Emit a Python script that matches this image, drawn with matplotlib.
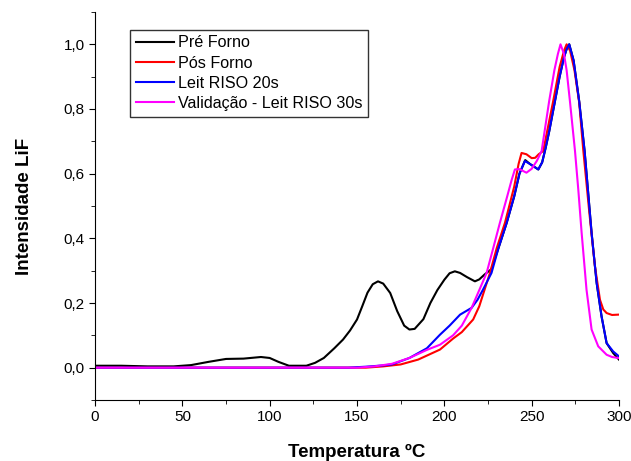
import matplotlib
matplotlib.use("Agg")
import matplotlib.pyplot as plt
from matplotlib.ticker import MultipleLocator, FuncFormatter

plt.rcParams['font.family'] = ['Liberation Sans', 'DejaVu Sans']

# Pré Forno
T_pre = [0, 15, 30, 45, 55, 65, 75, 85, 95, 100, 105, 111, 121, 126, 131, 137, 142, 146, 150,
         153, 156, 159, 162, 165, 169, 173, 177, 180, 183, 188, 192, 196, 200, 203, 206, 209,
         213, 217.5, 220, 223, 227, 231, 235.7, 240, 243, 246.3, 249, 253.8, 256, 258, 260, 263,
         266, 268.5, 270, 271.5, 274, 277.2, 280.3, 284.3, 287.2, 290, 292.9, 296.7, 300]
I_pre = [0.006, 0.006, 0.004, 0.004, 0.008, 0.018, 0.027, 0.028, 0.033, 0.030, 0.018, 0.006,
         0.006, 0.015, 0.03, 0.06, 0.087, 0.115, 0.149, 0.19, 0.232, 0.258, 0.267, 0.26, 0.231,
         0.175, 0.13, 0.118, 0.12, 0.15, 0.2, 0.24, 0.272, 0.292, 0.298, 0.293, 0.28, 0.267,
         0.273, 0.288, 0.305, 0.37, 0.448, 0.53, 0.6, 0.642, 0.63, 0.613, 0.635, 0.68, 0.73,
         0.815, 0.9, 0.96, 0.985, 1.0, 0.95, 0.824, 0.67, 0.417, 0.262, 0.159, 0.076, 0.045,
         0.025]

# Pós Forno
T_pos = [0, 155, 165, 175, 185, 197.5, 205, 210, 216.5, 220, 226.1, 230, 234.7, 240, 242.5,
         244.2, 247, 250, 252, 254, 256.6, 262.3, 266, 268.5, 270, 272, 274.5, 277.2, 279.5,
         283, 286.2, 289.1, 291, 292.9, 296, 299.5]
I_pos = [0, 0, 0.004, 0.01, 0.025, 0.056, 0.09, 0.11, 0.149, 0.19, 0.293, 0.37, 0.448, 0.56,
         0.63, 0.664, 0.66, 0.648, 0.649, 0.66, 0.67, 0.824, 0.93, 0.98, 1.0, 0.98, 0.92, 0.82,
         0.675, 0.48, 0.314, 0.21, 0.18, 0.169, 0.163, 0.164]

# Leit RISO 20s
T_b = [0, 145, 155, 165, 170, 180, 190, 197.5, 203, 209, 215.6, 219, 222, 227, 231, 235.7,
       240, 243, 246.1, 249, 253.8, 256, 258, 260, 263, 266, 268.5, 270, 271.5, 274, 277.2,
       280.3, 284.3, 287.2, 290, 292.9, 296.7, 300]
I_b = [0, 0, 0.003, 0.007, 0.01, 0.03, 0.06, 0.102, 0.13, 0.164, 0.185, 0.21, 0.24, 0.293,
       0.37, 0.448, 0.53, 0.6, 0.639, 0.63, 0.613, 0.635, 0.68, 0.73, 0.815, 0.9, 0.96, 0.985,
       1.0, 0.95, 0.824, 0.67, 0.417, 0.262, 0.159, 0.076, 0.05, 0.035]

# Validação - Leit RISO 30s
T_v = [0, 150, 160, 170, 180, 190, 197.5, 205, 210, 215.6, 220, 224.2, 228, 231.8, 236,
       238.5, 240.4, 243, 247, 250, 253, 255.7, 260, 263, 265, 266.5, 268.5, 270, 271.9,
       274.8, 276.7, 278.6, 281.4, 284.3, 288.1, 292.9, 296, 299.5]
I_v = [0, 0, 0.004, 0.012, 0.03, 0.055, 0.071, 0.1, 0.13, 0.185, 0.24, 0.293, 0.37, 0.448,
       0.53, 0.58, 0.613, 0.614, 0.603, 0.615, 0.64, 0.67, 0.824, 0.92, 0.97, 1.0, 0.97, 0.92,
       0.824, 0.67, 0.55, 0.417, 0.241, 0.118, 0.066, 0.04, 0.033, 0.03]

labels = ["Pré Forno", "Pós Forno", "Leit RISO 20s", "Validação - Leit RISO 30s"]
colors = ["black", "red", "blue", "magenta"]

fig = plt.figure(figsize=(6.31, 4.61), dpi=100)
ax = fig.add_axes([0.1506, 0.1323, 0.8304, 0.8417])

for (T, I), lab, c in zip([(T_pre, I_pre), (T_pos, I_pos), (T_b, I_b), (T_v, I_v)], labels, colors):
    ax.plot(T, I, color=c, lw=1.5, label=lab)

ax.set_xlim(0, 300)
ax.set_ylim(-0.1, 1.1)
ax.xaxis.set_major_locator(MultipleLocator(50))
ax.xaxis.set_minor_locator(MultipleLocator(25))
ax.yaxis.set_major_locator(MultipleLocator(0.2))
ax.yaxis.set_minor_locator(MultipleLocator(0.1))
ax.yaxis.set_major_formatter(FuncFormatter(lambda v, p: f"{v:.1f}".replace(".", ",").replace("-0,0", "0,0")))
ax.spines['top'].set_visible(False)
ax.spines['right'].set_visible(False)
ax.tick_params(which='major', direction='out', length=4, labelsize=11)
ax.tick_params(which='minor', direction='out', length=3)
ax.set_xlabel("Temperatura ºC", fontsize=13.5, fontweight='bold', labelpad=14)
ax.set_ylabel("Intensidade LiF", fontsize=13.5, fontweight='bold', labelpad=22)

leg = ax.legend(loc='upper left', bbox_to_anchor=(0.067, 0.954), fontsize=11.6, frameon=True,
                fancybox=False, edgecolor='black', handlelength=2.4, borderpad=0.35,
                labelspacing=0.32, handletextpad=0.2, borderaxespad=0)
leg.get_frame().set_linewidth(1.0)

fig.savefig("out.png", dpi=100)
